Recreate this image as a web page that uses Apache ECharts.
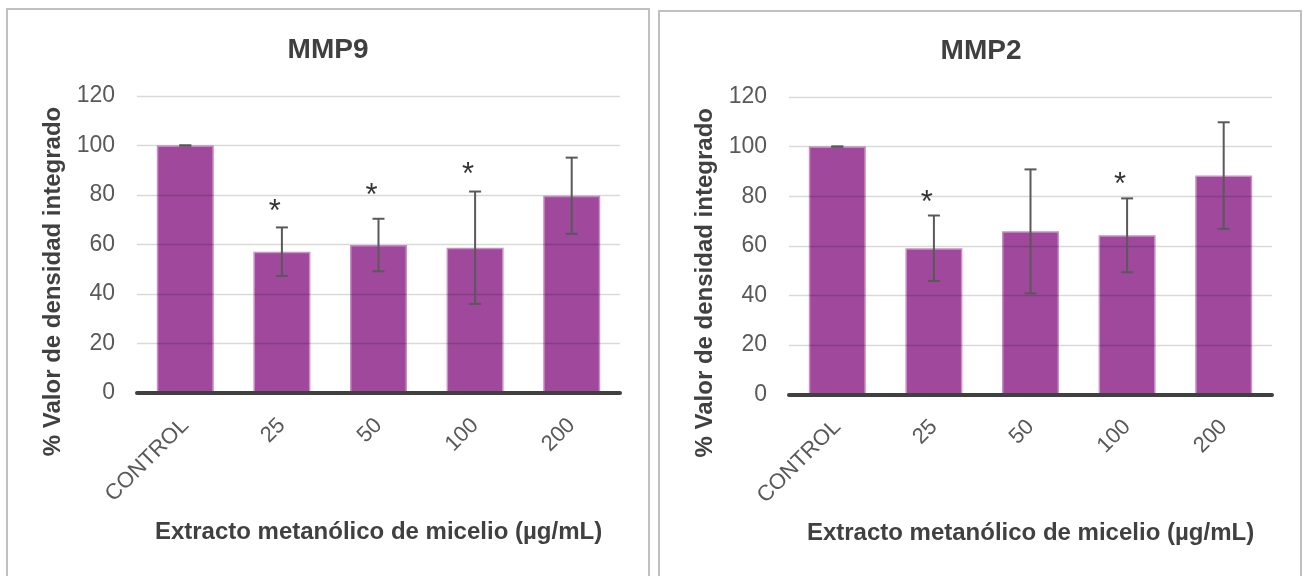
<!DOCTYPE html>
<html>
<head>
<meta charset="utf-8">
<script src="https://cdn.jsdelivr.net/npm/echarts@6/dist/echarts.min.js"></script>
<style>
html,body{margin:0;padding:0;background:#fff;}
#c{width:1309px;height:576px;}
</style>
</head>
<body>
<div id="c"></div>
<script>
// ---- data ----
const categories = ['CONTROL', '25', '50', '100', '200'];
const yTicks = [0, 20, 40, 60, 80, 100, 120];

const mmp9Values = [100, 57.1, 59.8, 58.7, 79.7];
const mmp9Errors = [0, 9.8, 10.6, 22.7, 15.4];
const mmp9StarCats = ['25', '50', '100'];
const mmp9StarY = [75, 81.4, 89.9];

const mmp2Values = [100, 59.0, 65.8, 64.2, 88.3];
const mmp2Errors = [0, 13.2, 25.0, 14.9, 21.5];
const mmp2StarCats = ['25', '100'];
const mmp2StarY = [79.1, 86.2];

const titles = ['MMP9', 'MMP2'];
const yName = '% Valor de densidad integrado';
const xName = 'Extracto metanólico de micelio (µg/mL)';

// ---- styling ----
const FONT = '"Liberation Sans", Arial, sans-serif';
const BAR_COLOR = 'rgba(149,52,145,0.9)';
const BAR_BORDER = '#c88fc5';
const ERR_COLOR = '#595959';

const chart = echarts.init(document.getElementById('c'), null, {renderer: 'canvas'});

function errData(vals, errs) {
  return vals.map((v, i) => [i, v + errs[i], v - errs[i]]);
}
function starData(cats, ys) {
  return cats.map((c, i) => [c, ys[i]]);
}

function errorRender(params, api) {
  const i = api.value(0);
  const hi = api.coord([i, api.value(1)]);
  const lo = api.coord([i, api.value(2)]);
  const half = 6;
  const st = {stroke: ERR_COLOR, lineWidth: 2};
  return {
    type: 'group',
    children: [
      {type: 'line', shape: {x1: hi[0], y1: hi[1], x2: lo[0], y2: lo[1]}, style: st},
      {type: 'line', shape: {x1: hi[0] - half, y1: hi[1], x2: hi[0] + half, y2: hi[1]}, style: st},
      {type: 'line', shape: {x1: lo[0] - half, y1: lo[1], x2: lo[0] + half, y2: lo[1]}, style: st}
    ]
  };
}

const grids = [
  {left: 137, top: 96, width: 483, height: 297},
  {left: 789, top: 97, width: 483, height: 297.5}
];

function xAxisFor(gi) {
  return {
    type: 'category', gridIndex: gi, data: categories, z: 3,
    axisLine: {show: true, lineStyle: {color: '#404040', width: 4}},
    axisTick: {show: false},
    axisLabel: {rotate: 45, margin: 29, fontSize: 22, color: '#595959', fontFamily: FONT},
    name: xName, nameLocation: 'middle', nameGap: 127,
    nameTextStyle: {fontSize: 24, fontWeight: 'bold', color: '#404040', fontFamily: FONT}
  };
}
function yAxisFor(gi) {
  return {
    type: 'value', gridIndex: gi, min: yTicks[0], max: yTicks[yTicks.length - 1],
    interval: yTicks[1] - yTicks[0], z: 2.5,
    axisLine: {show: false}, axisTick: {show: false},
    splitLine: {show: true, lineStyle: {color: 'rgba(0,0,0,0.15)', width: 1.3}},
    axisLabel: {margin: 22, fontSize: 23, color: '#595959', fontFamily: FONT},
    name: yName, nameLocation: 'middle', nameGap: 72, nameRotate: 90,
    nameTextStyle: {fontSize: 24, fontWeight: 'bold', color: '#404040', fontFamily: FONT,
      padding: [0, 74, 0, 0]}
  };
}

function seriesFor(gi, vals, errs, starCats, starYs) {
  return [
    {
      type: 'bar', xAxisIndex: gi, yAxisIndex: gi, data: vals, barCategoryGap: '41%', z: 2,
      itemStyle: {color: BAR_COLOR, borderColor: BAR_BORDER, borderWidth: 1.5},
      emphasis: {disabled: true}
    },
    {
      type: 'custom', xAxisIndex: gi, yAxisIndex: gi, data: errData(vals, errs),
      renderItem: errorRender, z: 4, silent: true
    },
    {
      type: 'scatter', xAxisIndex: gi, yAxisIndex: gi, data: starData(starCats, starYs),
      symbolSize: 1, itemStyle: {color: 'rgba(0,0,0,0)'}, z: 5, silent: true,
      label: {show: true, position: 'inside', formatter: '*', offset: [-7, 5],
        fontSize: 31, color: '#000', fontFamily: FONT}
    }
  ];
}

const option = {
  backgroundColor: '#fff',
  animation: false,
  title: [
    {text: titles[0], left: 323, top: 31, textAlign: 'center',
      textStyle: {fontSize: 28, fontWeight: 'bold', color: '#404040', fontFamily: FONT}},
    {text: titles[1], left: 976, top: 32, textAlign: 'center',
      textStyle: {fontSize: 28, fontWeight: 'bold', color: '#404040', fontFamily: FONT}}
  ],
  graphic: [
    {type: 'rect', shape: {x: 7, y: 9, width: 642, height: 620}, style: {fill: 'none', stroke: '#c0c0c0', lineWidth: 2}, silent: true},
    {type: 'rect', shape: {x: 659, y: 11, width: 642, height: 620}, style: {fill: 'none', stroke: '#c0c0c0', lineWidth: 2}, silent: true}
  ],
  grid: grids,
  xAxis: [xAxisFor(0), xAxisFor(1)],
  yAxis: [yAxisFor(0), yAxisFor(1)],
  series: [].concat(
    seriesFor(0, mmp9Values, mmp9Errors, mmp9StarCats, mmp9StarY),
    seriesFor(1, mmp2Values, mmp2Errors, mmp2StarCats, mmp2StarY)
  )
};
chart.setOption(option);
</script>
</body>
</html>
